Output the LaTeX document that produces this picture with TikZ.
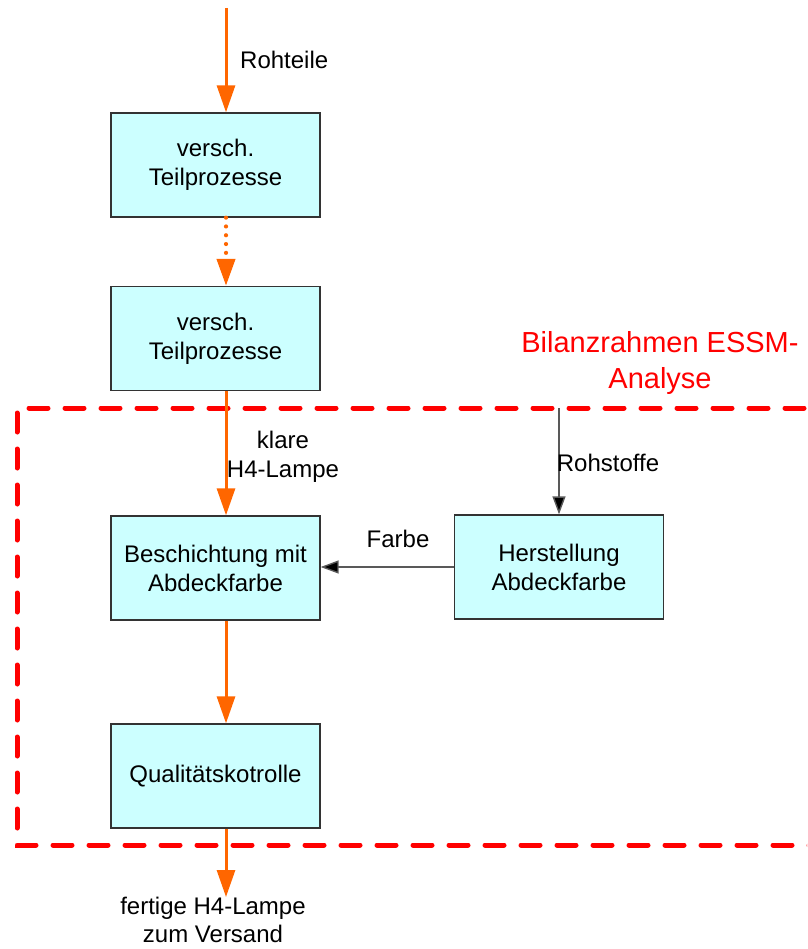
\documentclass[tikz,border=0pt]{standalone}
\usepackage{fontspec}
\setmainfont{Liberation Sans}
\usetikzlibrary{arrows.meta}
\definecolor{orfl}{HTML}{FF6600}
\definecolor{pzfill}{HTML}{CCFFFF}
\tikzset{
  proz/.style = {draw=black!80, fill=pzfill, line width=1.3pt,
    minimum width=209pt, minimum height=104pt, inner sep=0pt,
    align=center, font=\fontsize{24}{29}\selectfont},
  fluss/.style = {draw=orfl, line width=3pt,
    -{Triangle[width=18pt, length=27pt, fill=orfl]}},
  punkt/.style = {fluss, line cap=round, dash pattern=on 0pt off 8.8pt,
    line width=4.2pt},
  stoff/.style = {draw=black!65, line width=1.4pt,
    -{Triangle[width=13pt, length=18pt, fill=black]}},
  rahmen/.style = {draw=red, line width=5pt, line cap=round,
    dash pattern=on 19pt off 17pt},
  lab/.style = {align=center, inner sep=0pt, font=\fontsize{24}{29}\selectfont},
  rot/.style = {lab, text=red, font=\fontsize{29}{36}\selectfont}
}
\begin{document}
\begin{tikzpicture}[x=1pt, y=-1pt]
  \useasboundingbox (0,0) rectangle (807,949);
  \clip (0,0) rectangle (807,949);
  % Prozesskette
  \node [proz] (tp1) at (215.5,165) {versch.\\Teilprozesse};
  \node [proz] (tp2) at (215.5,338.5) {versch.\\Teilprozesse};
  \node [proz] (bes) at (215.5,568) {Beschichtung mit\\Abdeckfarbe};
  \node [proz] (qk) at (215.5,776) {Qualitätskotrolle};
  \node [proz] (her) at (559,567) {Herstellung\\Abdeckfarbe};
  \coordinate (ein) at (226,8);
  \coordinate (aus) at (226,897);
  \coordinate (roh) at (559,408);
  % Bilanzrahmen
  \draw [rahmen] (840,408) -- (17,408) -- (17,845) -- (840,845);
  \node [rot] (bil) at (660,363) {Bilanzrahmen ESSM-\\Analyse};
  % Fluesse
  \draw [fluss] (ein) -- (ein |- tp1.north);
  \draw [punkt] (tp1.south -| ein) -- (tp2.north -| ein);
  \draw [fluss] (tp2.south -| ein) -- (bes.north -| ein);
  \draw [fluss] (bes.south -| ein) -- (qk.north -| ein);
  \draw [fluss] (qk.south -| ein) -- (aus);
  \draw [stoff] (roh) -- (her.north);
  \draw [stoff] (her.west) -- (bes.east |- her.west);
  % Beschriftungen
  \node [lab, anchor=west] (lrt) at (240,60) {Rohteile};
  \node [lab] (lkl) at (283,457) {klare\\H4-Lampe};
  \node [lab] (lrs) at (608,463) {Rohstoffe};
  \node [lab] (lfb) at (398,539) {Farbe};
  \node [lab, font=\fontsize{24}{28}\selectfont] (lfe) at (213,920) {fertige H4-Lampe\\zum Versand};
\end{tikzpicture}
\end{document}
